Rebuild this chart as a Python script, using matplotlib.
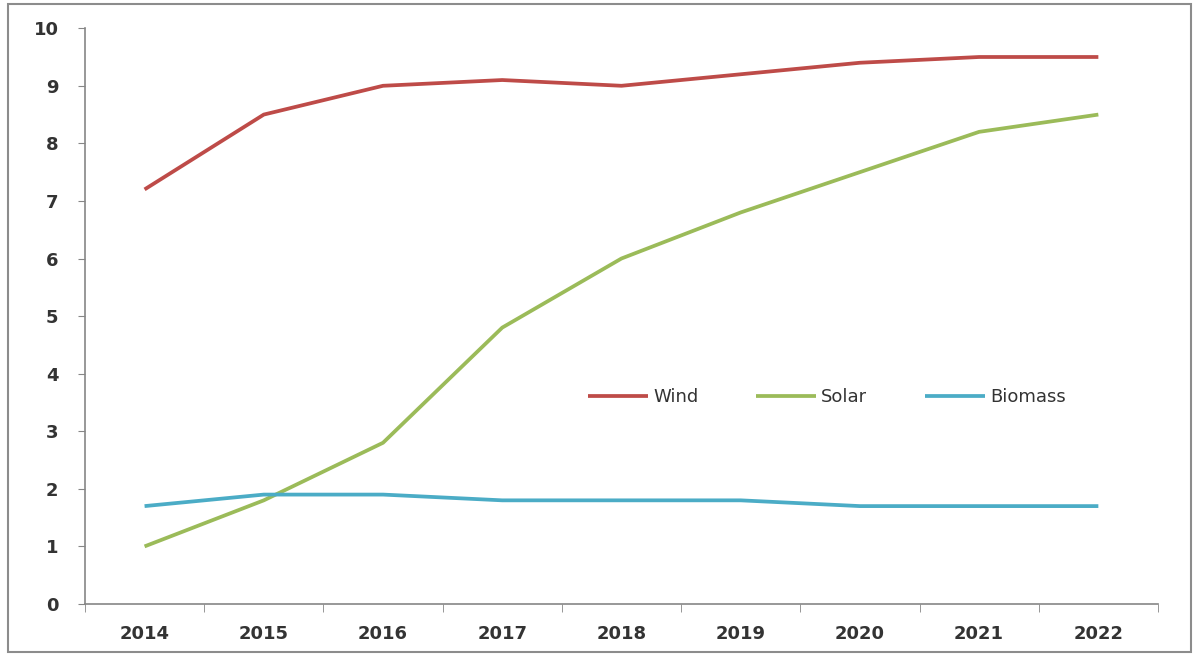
import numpy as np
import matplotlib.pyplot as plt
from matplotlib.patches import Rectangle

years = ['2014', '2015', '2016', '2017', '2018', '2019', '2020', '2021', '2022']
wind = [7.2, 8.5, 9.0, 9.1, 9.0, 9.2, 9.4, 9.5, 9.5]
solar = [1.0, 1.8, 2.8, 4.8, 6.0, 6.8, 7.5, 8.2, 8.5]
biomass = [1.7, 1.9, 1.9, 1.8, 1.8, 1.8, 1.7, 1.7, 1.7]

series = [('Wind', wind, '#BE4B48'),
          ('Solar', solar, '#9BBB59'),
          ('Biomass', biomass, '#4BACC6')]

fig = plt.figure(figsize=(11.95, 6.56), dpi=100)
ax = fig.add_axes([0.0711, 0.0793, 0.8979, 0.8777])

x = np.arange(len(years))
for name, vals, color in series:
    ax.plot(x, vals, color=color, linewidth=2.7, label=name, solid_capstyle='butt')

ax.set_xlim(-0.5, len(years) - 0.5)
ax.set_ylim(0, 10)
ax.set_yticks(range(0, 11))

# category labels centred, tick marks on the category boundaries
ax.set_xticks(x)
ax.set_xticklabels(years)
ax.set_xticks(np.arange(-0.5, len(years)), minor=True)
ax.tick_params(axis='x', which='major', length=0, pad=15)
ax.tick_params(axis='x', which='minor', length=6, color='#868686', direction='out')
ax.tick_params(axis='y', length=5, color='#868686', pad=14)
ax.tick_params(labelsize=13, labelcolor='#333333')
for lbl in ax.get_xticklabels() + ax.get_yticklabels():
    lbl.set_fontweight('bold')

for side in ('top', 'right'):
    ax.spines[side].set_visible(False)
for side in ('left', 'bottom'):
    ax.spines[side].set_color('#868686')
    ax.spines[side].set_linewidth(1.2)

leg = ax.legend(loc='center left', bbox_to_anchor=(0.469, 0.359), ncol=3, frameon=False,
                handlelength=3.3, handletextpad=0.3, columnspacing=3.2,
                fontsize=13, borderpad=0, borderaxespad=0)
for t in leg.get_texts():
    t.set_color('#333333')

# thin grey border round the whole chart area
fig.patches.append(Rectangle((0.007, 0.006), 0.99, 0.988, transform=fig.transFigure,
                             fill=False, edgecolor='#8c8c8c', linewidth=1.5))

fig.savefig('out.png', dpi=100)
